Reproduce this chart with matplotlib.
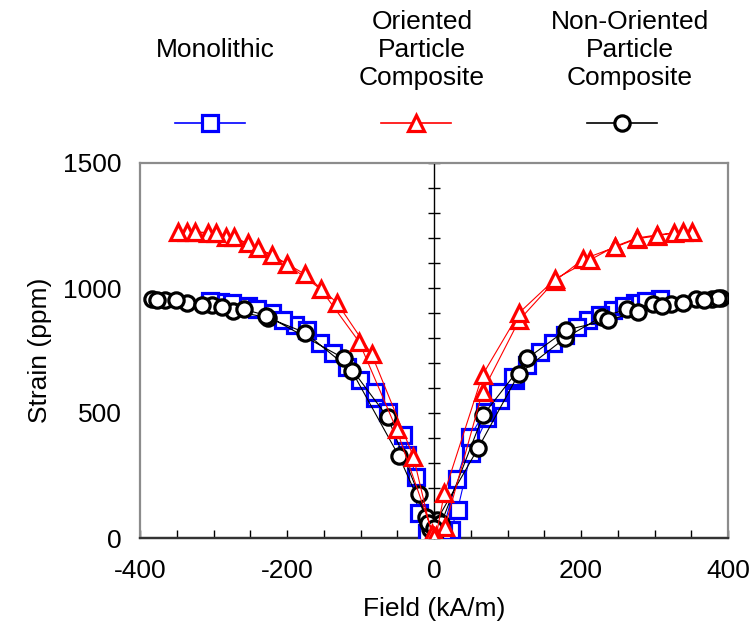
import matplotlib.pyplot as plt
from matplotlib.ticker import MultipleLocator

plt.rcParams['font.family'] = ['Liberation Sans', 'DejaVu Sans']
plt.rcParams['axes.unicode_minus'] = False

# Monolithic sample: field (kA/m) and strain (ppm), in the order of the field sweep
mono_field = [0, 10, 23, 32, 50, 72, 90, 110, 144, 178, 210, 244, 273, 307,
              289, 258, 226, 194, 162, 127, 108, 87, 69, 49, 31, 12, 0,
              -10, -24, -42, -80, -119, -155, -189, -221, -253, -291, -305,
              -275, -241, -205, -173, -137, -101, -80, -62, -37, -21, 0]
mono_strain = [0, 15, 32, 112, 339, 479, 552, 632, 745, 812, 872, 912, 942, 955,
               950, 930, 892, 845, 779, 692, 645, 585, 505, 405, 235, 30, 0,
               20, 245, 412, 559, 685, 779, 852, 900, 928, 945, 950,
               940, 915, 872, 832, 739, 632, 585, 505, 332, 99, 0]

# Oriented particle composite
orient_field = [0, 15, 66, 116, 165, 203, 246, 276, 303, 326, 351,
                339, 303, 276, 246, 212, 165, 116, 66, 14, 3,
                -3, -28, -85, -132, -176, -221, -253, -283, -307, -336,
                -348, -325, -296, -272, -239, -200, -154, -102, -51, 0]
orient_strain = [5, 45, 585, 872, 1030, 1115, 1163, 1197, 1208, 1221, 1223,
                 1225, 1212, 1200, 1166, 1112, 1036, 901, 652, 179, 10,
                 15, 325, 736, 941, 1056, 1132, 1179, 1203, 1219, 1225,
                 1225, 1225, 1219, 1203, 1159, 1096, 995, 785, 435, 5]

# Non-oriented particle composite
nonor_field = [-5, 4, 60, 115, 178, 228, 263, 298, 322, 357, 378, 390,
               386, 367, 339, 310, 278, 237, 180, 127, 67, 10, 2,
               -5, -11, -48, -112, -175, -226, -273, -302, -336, -366, -384,
               -377, -351, -316, -288, -259, -228, -123, -63, -21, -8, 0]
nonor_strain = [50, 72, 359, 655, 799, 885, 915, 936, 936, 955, 955, 959,
                959, 952, 941, 928, 905, 872, 832, 719, 492, 60, 20,
                35, 85, 329, 669, 821, 881, 909, 932, 941, 952, 955,
                952, 952, 932, 923, 915, 890, 719, 483, 176, 60, 40]

labels = ['Monolithic', 'Oriented\nParticle\nComposite', 'Non-Oriented\nParticle\nComposite']

W, H = 752, 641
fig = plt.figure(figsize=(W / 100, H / 100), dpi=100)
rect = [140 / W, 1 - 538 / H, 588 / W, 375 / H]

# crossing axes through the origin, drawn underneath the data
axc = fig.add_axes(rect)
axc.set_xlim(-400, 400)
axc.set_ylim(0, 1500)
axc.patch.set_visible(False)
axc.spines['top'].set_visible(False)
axc.spines['right'].set_visible(False)
axc.spines['left'].set_position(('data', 0))
axc.spines['bottom'].set_position(('data', 0))
axc.spines['left'].set_color('black')
axc.spines['left'].set_linewidth(1.0)
axc.spines['bottom'].set_color('#222222')
axc.spines['bottom'].set_linewidth(1.6)
axc.xaxis.set_major_locator(MultipleLocator(50))
axc.yaxis.set_major_locator(MultipleLocator(100))
axc.tick_params(axis='x', direction='in', length=6, width=1, labelbottom=False)
axc.tick_params(axis='y', direction='inout', length=8, width=1, labelleft=False)

ax = fig.add_axes(rect)
ax.patch.set_visible(False)
styles = [
    (mono_field, mono_strain, '#0000ff', 's', 3),
    (orient_field, orient_strain, '#ff0000', '^', 5),
    (nonor_field, nonor_strain, 'black', 'o', 4),
]
lines = []
for fx, sy, c, m, z in styles:
    ln, = ax.plot(fx, sy, color=c, lw=0.8, marker=m, ms=11, mfc='white', mec=c, mew=2.3, zorder=z)
    lines.append(ln)

ax.set_xlim(-400, 400)
ax.set_ylim(0, 1500)
ax.set_xticks([-400, -200, 0, 200, 400])
ax.set_yticks([0, 500, 1000, 1500])
ax.tick_params(axis='both', length=0, labelsize=19)
ax.tick_params(axis='y', pad=13)
ax.tick_params(axis='x', pad=15)
for s in ax.spines.values():
    s.set_color('#8c8c8c')
    s.set_linewidth(1.6)
ax.spines['bottom'].set_color('#333333')
ax.set_xlabel('Field (kA/m)', fontsize=19, labelpad=10)
ax.set_ylabel('Strain (ppm)', fontsize=19, labelpad=8)

# legend: markers on one row, names stacked above them
leg_lines = [plt.Line2D([], [], color=c, lw=1.2, marker=m, ms=11, mfc='white', mec=c, mew=2.3)
             for _, _, c, m, _ in styles]
fig.legend(leg_lines, ['', '', ''], ncol=3, loc='center', bbox_to_anchor=(416 / W, 1 - 125 / H),
           frameon=False, fontsize=19, handlelength=2.65, handletextpad=0.0,
           columnspacing=5.15, borderaxespad=0)
for xc, lab in zip([215, 422, 630], labels):
    fig.text(xc / W, 1 - 50 / H, lab, ha='center', va='center', fontsize=19,
             multialignment='center', linespacing=1.2)

fig.savefig('out.png', dpi=100)
